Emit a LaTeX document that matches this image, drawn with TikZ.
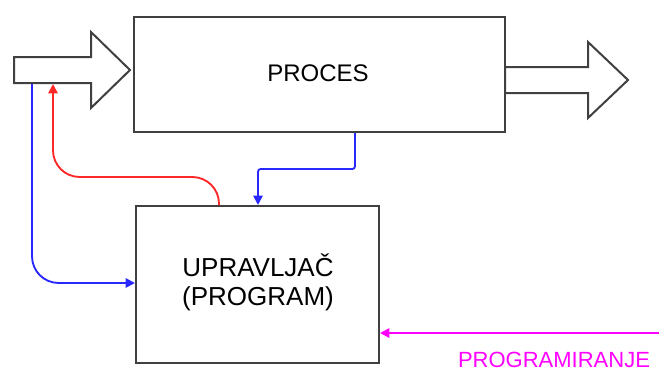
\documentclass[tikz,border=0pt]{standalone}
\usepackage{fontspec}
\setmainfont{Liberation Sans}
\usetikzlibrary{arrows.meta}
\definecolor{magentaP}{RGB}{255,0,255}
\definecolor{blueP}{RGB}{40,40,255}
\definecolor{redP}{RGB}{255,40,40}
\begin{document}
\begin{tikzpicture}[x=0.75pt,y=-0.75pt,
  blk/.style={draw=black!75,line width=1.5pt,fill=white},
  boxnode/.style={draw=black!75,line width=1.5pt,inner sep=0pt,anchor=north west},
  conn/.style={line width=1.4pt,-{Triangle[length=7pt,width=7pt]}},
  lbl/.style={inner sep=0pt}]
\useasboundingbox (0,0) rectangle (668,371);
% big arrows
\draw[blk,line join=miter] (14,57) -- (91,57) -- (91,32) -- (130,70) -- (91,108) -- (91,83) -- (14,83) -- cycle;
\node[boxnode,minimum width=371*0.75pt,minimum height=115*0.75pt] (proc) at (133,16) {};
\draw[blk,line join=miter] (505,67) -- (588,67) -- (588,42) -- (628,80) -- (588,118) -- (588,93) -- (505,93) -- cycle;
\node[boxnode,minimum width=243*0.75pt,minimum height=157*0.75pt] (upr) at (135,205) {};
\node[lbl,font=\fontsize{18}{20}\selectfont] (proct) at (318,73) {PROCES};
\node[lbl,font=\fontsize{19.5}{22}\selectfont,align=center] (uprt) at (258,282) {UPRAVLJAČ\\(PROGRAM)};
\node[lbl,font=\fontsize{16.5}{18}\selectfont,text=magentaP,anchor=base] (progt) at (554,367) {PROGRAMIRANJE};
% connector ends
\coordinate (inB) at (32,84);
\coordinate (inR) at (53,84);
\coordinate (progS) at (659,333);
% connectors
\draw[conn,blueP,rounded corners=20] (inB) |- (upr.west |- 0,283);
\draw[conn,redP,rounded corners=20] (upr.north -| 219,0) |- (120,177) -| (inR);
\draw[conn,blueP,rounded corners=2] (proc.south -| 355,0) |- (300,169) -| (upr.north -| 258,0);
\draw[conn,magentaP] (progS) -- (upr.east |- progS);
\end{tikzpicture}
\end{document}
